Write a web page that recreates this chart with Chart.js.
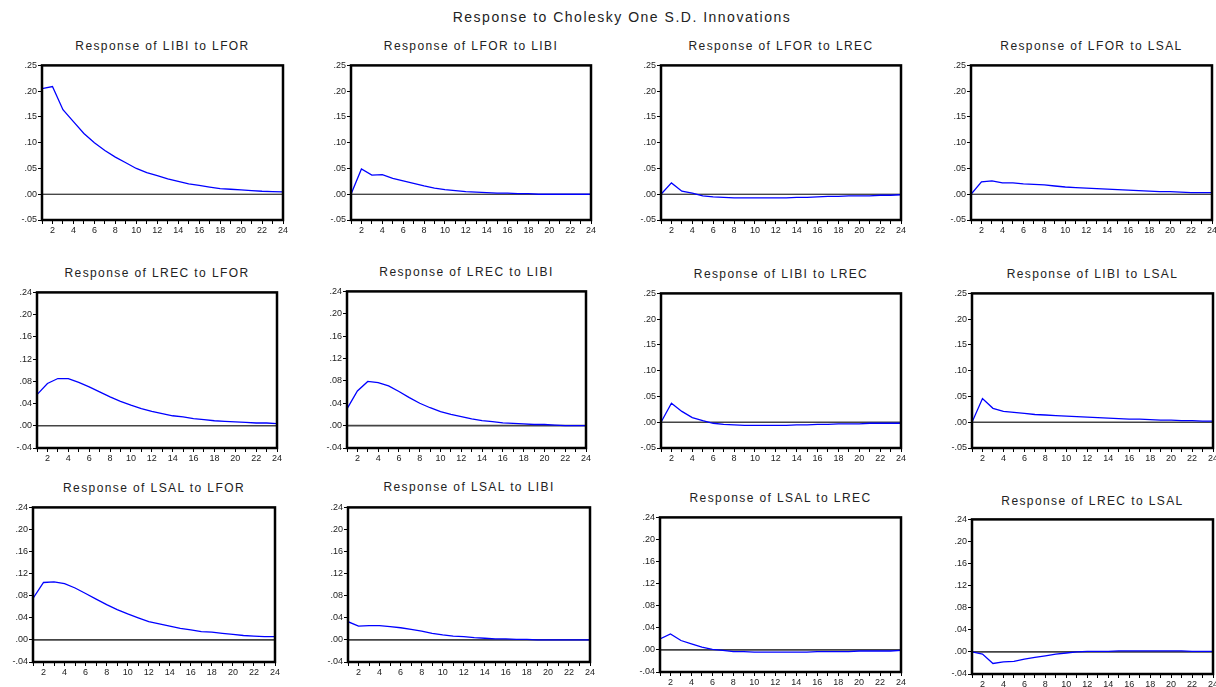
<!DOCTYPE html>
<html>
<head>
<meta charset="utf-8">
<script src="https://cdn.jsdelivr.net/npm/chart.js@4.4.0/dist/chart.umd.min.js"></script>
<style>
  body { margin: 0; background: #fff; width: 1216px; height: 687px; position: relative; overflow: hidden;
         font-family: "Liberation Sans", Arial, sans-serif; }
  .ttl { position: absolute; white-space: nowrap; transform: translate(-50%, -50%); color: #222;
         font-size: 12px; letter-spacing: 1.4px; }
  #main { font-size: 14px; letter-spacing: 1.5px; }
  canvas { position: absolute; }
</style>
</head>
<body>
<div id="main" class="ttl" style="left:622px;top:17px">Response to Cholesky One S.D. Innovations</div>
<script>
// periods (x axis)
var periods = [1, 2, 3, 4, 5, 6, 7, 8, 9, 10, 11, 12, 13, 14, 15, 16, 17, 18, 19, 20, 21, 22, 23, 24];

// impulse responses
var libiToLfor = [.205, .209, .164, .141, .118, .100, .085, .072, .061, .050, .042, .036, .030, .025, .020, .017, .014, .011, .0097, .0084, .0071, .0058, .0052, .0045];
var lforToLibi = [.000, .049, .037, .038, .031, .026, .021, .016, .012, .009, .007, .005, .004, .003, .002, .002, .001, .001, .000, .000, .000, .000, .000, .000];
var lforToLrec = [.000, .022, .006, .002, -.003, -.005, -.006, -.007, -.007, -.007, -.007, -.007, -.007, -.006, -.006, -.005, -.004, -.004, -.003, -.003, -.003, -.002, -.002, -.001];
var lforToLsal = [.000, .024, .026, .022, .022, .020, .019, .018, .016, .014, .013, .012, .011, .010, .009, .008, .007, .006, .005, .005, .004, .003, .003, .003];
var lrecToLfor = [.056, .076, .085, .085, .078, .070, .061, .052, .044, .037, .031, .026, .022, .018, .016, .013, .011, .009, .008, .007, .006, .005, .005, .004];
var lrecToLibi = [.030, .062, .079, .077, .071, .061, .050, .040, .032, .025, .020, .016, .012, .009, .007, .005, .004, .003, .002, .002, .001, .000, .000, .000];
var libiToLrec = [.000, .037, .021, .009, .003, -.002, -.004, -.005, -.006, -.006, -.006, -.006, -.006, -.005, -.005, -.004, -.004, -.003, -.003, -.003, -.002, -.002, -.002, -.002];
var libiToLsal = [.000, .046, .027, .021, .019, .017, .015, .014, .013, .012, .011, .010, .009, .008, .007, .006, .006, .005, .004, .004, .003, .003, .002, .002];
var lsalToLfor = [.075, .104, .105, .102, .094, .084, .074, .064, .055, .047, .040, .033, .029, .025, .021, .018, .015, .014, .012, .010, .008, .007, .006, .006];
var lsalToLibi = [.033, .025, .026, .026, .024, .022, .019, .016, .012, .009, .007, .006, .004, .003, .002, .002, .001, .001, .000, .000, .000, .000, .000, .000];
var lsalToLrec = [.020, .029, .017, .011, .005, .001, -.001, -.003, -.003, -.004, -.004, -.004, -.004, -.004, -.004, -.003, -.003, -.003, -.003, -.002, -.002, -.002, -.002, -.001];
var lrecToLsal = [.000, -.004, -.021, -.018, -.017, -.013, -.010, -.007, -.004, -.002, .000, .001, .001, .001, .002, .002, .002, .002, .002, .002, .002, .001, .001, .001];

var titles = [
  'Response of LIBI to LFOR', 'Response of LFOR to LIBI', 'Response of LFOR to LREC', 'Response of LFOR to LSAL',
  'Response of LREC to LFOR', 'Response of LREC to LIBI', 'Response of LIBI to LREC', 'Response of LIBI to LSAL',
  'Response of LSAL to LFOR', 'Response of LSAL to LIBI', 'Response of LSAL to LREC', 'Response of LREC to LSAL'
];
var series = [libiToLfor, lforToLibi, lforToLrec, lforToLsal,
              lrecToLfor, lrecToLibi, libiToLrec, libiToLsal,
              lsalToLfor, lsalToLibi, lsalToLrec, lrecToLsal];

// y scale ranges
var rangeA = { min: -0.05, max: 0.25, step: 0.05 };
var rangeB = { min: -0.04, max: 0.24, step: 0.04 };
var ranges = [rangeA, rangeA, rangeA, rangeA,
              rangeB, rangeB, rangeA, rangeA,
              rangeB, rangeB, rangeB, rangeB];

// plot box of each panel on the page: left, top, right, bottom, title y
var boxes = [
  [42, 65, 283, 220, 46], [351, 65, 591, 220, 46], [661, 65, 901, 220, 46], [971, 65, 1212, 220, 46],
  [37, 292, 277, 448, 273], [347, 291, 586, 448, 272], [661, 293, 901, 448, 274], [972, 293, 1213, 448, 274],
  [33, 507, 275, 662, 488], [348, 507, 590, 662, 487], [660, 517, 901, 672, 498], [972, 519, 1213, 674, 501]
];

var boxPlugin = {
  id: 'box',
  beforeDatasetsDraw: function(chart) {
    var a = chart.chartArea, y = chart.scales.y.getPixelForValue(0), ctx = chart.ctx;
    ctx.save();
    ctx.strokeStyle = chart.options.plugins.box.zeroColor;
    ctx.lineWidth = chart.options.plugins.box.zeroWidth;
    ctx.beginPath();
    ctx.moveTo(a.left, y);
    ctx.lineTo(a.right, y);
    ctx.stroke();
    ctx.restore();
  },
  afterDraw: function(chart) {
    var a = chart.chartArea, ctx = chart.ctx;
    ctx.save();
    ctx.strokeStyle = '#000';
    ctx.lineWidth = 2.5;
    ctx.strokeRect(a.left, a.top, a.right - a.left, a.bottom - a.top);
    ctx.restore();
  }
};

// EViews style tick label: .25  .00  -.05
function fmt(v) {
  if (Math.abs(v) < 1e-9) return '.00';
  return Number(v).toFixed(2).replace('0.', '.');
}

var padL = 40, padT = 6, padR = 9, padB = 20;

boxes.forEach(function(bx, i) {
  var l = bx[0], t = bx[1], r = bx[2], b = bx[3];

  var ttl = document.createElement('div');
  ttl.className = 'ttl';
  ttl.style.left = ((l + r) / 2) + 'px';
  ttl.style.top = bx[4] + 'px';
  ttl.textContent = titles[i];
  document.body.appendChild(ttl);

  var cv = document.createElement('canvas');
  cv.width = r - l + padL + padR;
  cv.height = b - t + padT + padB;
  cv.style.left = (l - padL) + 'px';
  cv.style.top = (t - padT) + 'px';
  document.body.appendChild(cv);

  var rg = ranges[i];
  new Chart(cv, {
    type: 'line',
    data: {
      labels: periods,
      datasets: [{
        data: series[i].map(function(v, k) { return { x: periods[k], y: v }; }),
        borderColor: '#0000ff',
        borderWidth: 1.3,
        pointRadius: 0,
        tension: 0,
        fill: false
      }]
    },
    options: {
      responsive: false,
      animation: false,
      devicePixelRatio: 1,
      layout: { padding: { left: 0, top: padT, right: padR, bottom: 0 } },
      plugins: {
        legend: { display: false },
        tooltip: { enabled: false },
        box: { zeroColor: i < 4 ? '#000' : '#444', zeroWidth: i < 4 ? 1 : 1.6 }
      },
      scales: {
        x: {
          type: 'linear',
          min: 1,
          max: 24,
          afterFit: function(s) { s.height = padB; },
          border: { display: false },
          grid: { drawOnChartArea: false, drawTicks: true, tickLength: 4, color: '#000', lineWidth: 1 },
          ticks: {
            stepSize: 1,
            autoSkip: false,
            maxRotation: 0,
            padding: 1,
            color: '#222',
            font: { family: 'Liberation Sans', size: 9 },
            callback: function(v) { return v % 2 === 0 ? String(v) : ''; }
          }
        },
        y: {
          min: rg.min,
          max: rg.max,
          afterFit: function(s) { s.width = padL; },
          border: { display: false },
          grid: { drawOnChartArea: false, drawTicks: true, tickLength: 4, color: '#000', lineWidth: 1 },
          ticks: {
            stepSize: rg.step,
            padding: 1,
            color: '#222',
            font: { family: 'Liberation Sans', size: 9 },
            callback: function(v) { return fmt(v); }
          }
        }
      }
    },
    plugins: [boxPlugin]
  });
});
</script>
</body>
</html>
